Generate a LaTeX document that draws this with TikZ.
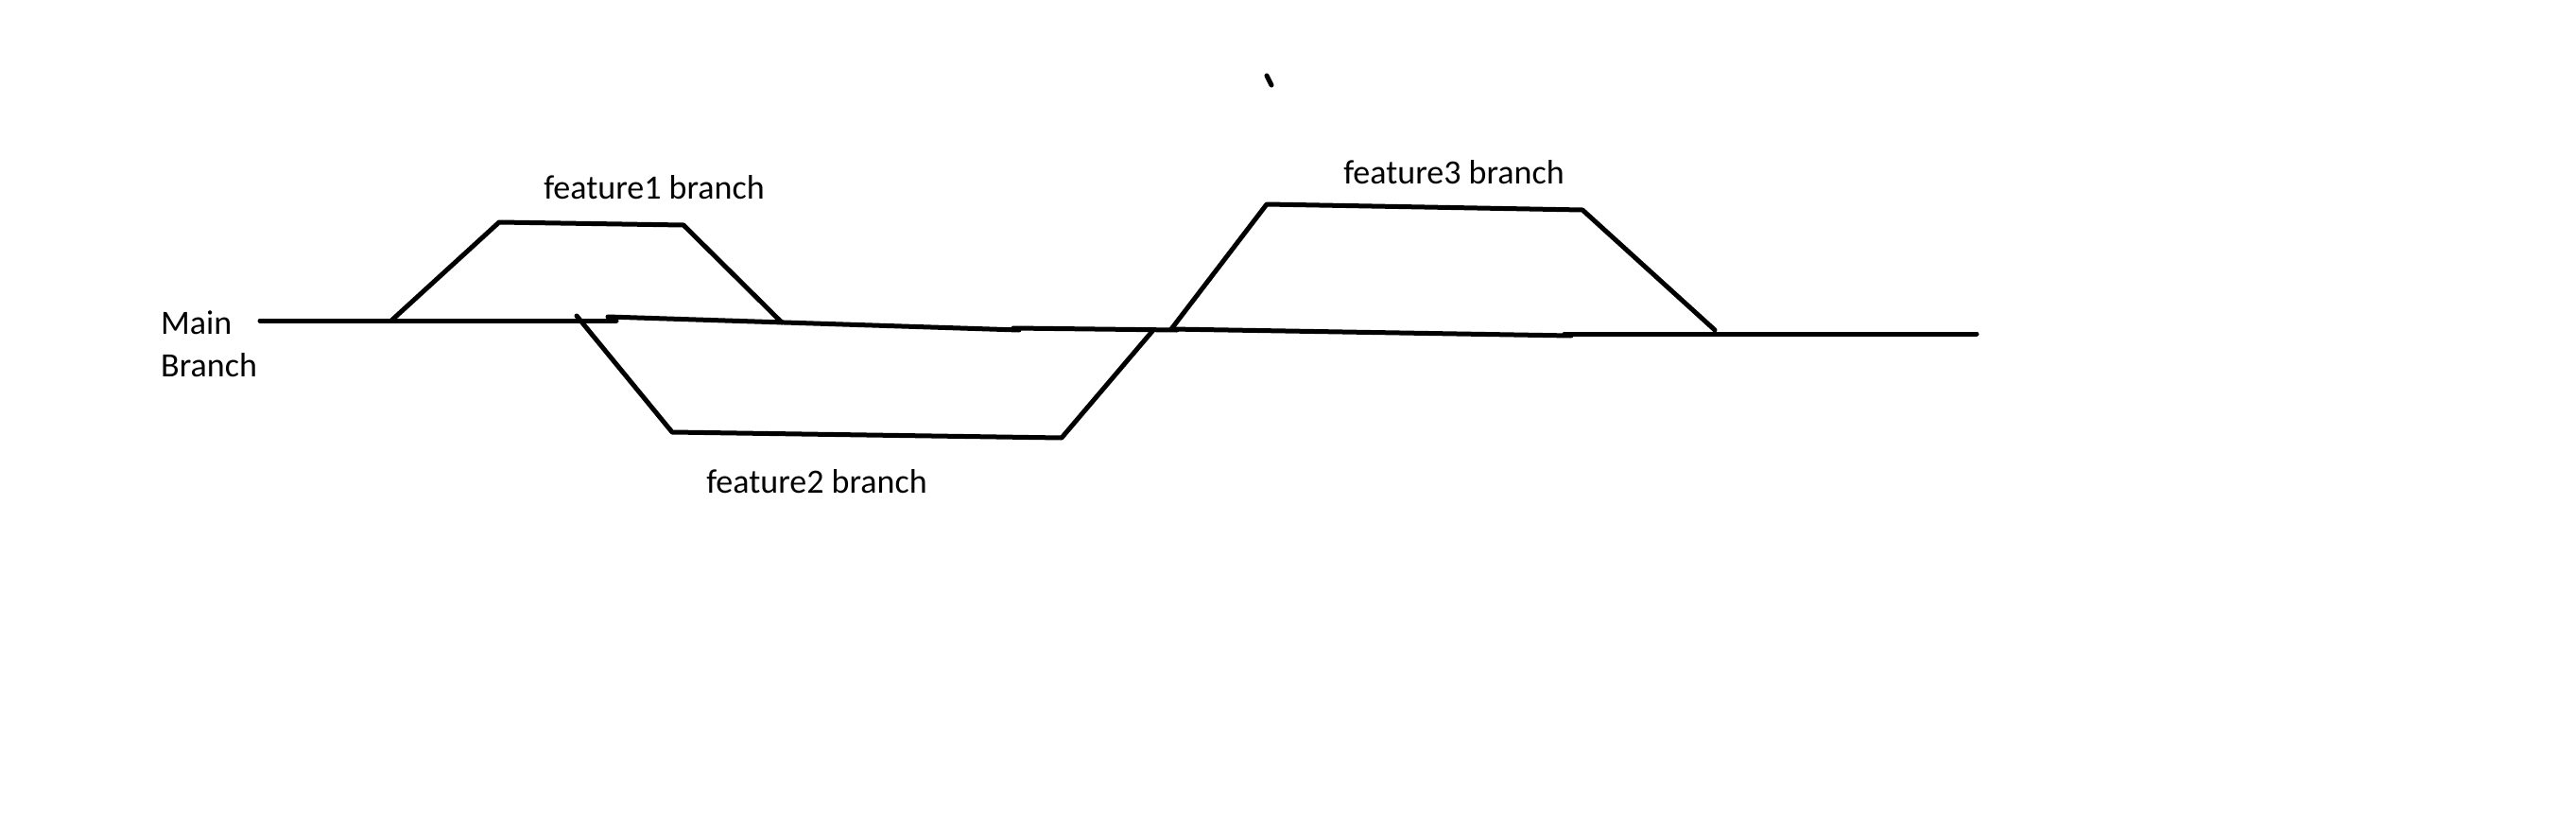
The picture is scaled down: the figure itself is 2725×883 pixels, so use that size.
\documentclass[tikz,border=0pt]{standalone}
\usepackage{fontspec}
\setmainfont{Carlito}
\begin{document}
\begin{tikzpicture}[x=1pt,y=-1pt,
  stroke/.style={line width=5pt,line cap=round,line join=round,black},
  lbl/.style={inner sep=0pt,font=\fontsize{36}{45}\selectfont}]
\fill[white] (0,0) rectangle (2725,883);
\useasboundingbox (0,0) rectangle (2725,883);
% main line points
\coordinate (m0) at (275,339);
\coordinate (m1) at (652,339);
\coordinate (m2) at (643,335);
\coordinate (m3) at (1078,349);
\coordinate (m4) at (1072,347);
\coordinate (m5) at (1245,349);
\coordinate (m6) at (1239,348);
\coordinate (m7) at (1662,355);
\coordinate (m8) at (1655,353);
\coordinate (m9) at (2091,353);
% feature1
\coordinate (a0) at (414,339);
\coordinate (a1) at (528,235);
\coordinate (a2) at (723,238);
\coordinate (a3) at (827,341);
% feature2
\coordinate (b0) at (610,334);
\coordinate (b1) at (711,457);
\coordinate (b2) at (1123,463);
\coordinate (b3) at (1220,349);
% feature3
\coordinate (c0) at (1239,348);
\coordinate (c1) at (1340,216);
\coordinate (c2) at (1674,222);
\coordinate (c3) at (1814,349);
% tick
\coordinate (t0) at (1340,80);
\coordinate (t1) at (1345,90);

\draw[stroke] (m0) -- (m1);
\draw[stroke] (m2) -- (m3);
\draw[stroke] (m4) -- (m5);
\draw[stroke] (m6) -- (m7);
\draw[stroke] (m8) -- (m9);
\draw[stroke] (a0) -- (a1) -- (a2) -- (a3);
\draw[stroke] (b0) -- (b1) -- (b2) -- (b3);
\draw[stroke] (c0) -- (c1) -- (c2) -- (c3);
\draw[stroke] (t0) -- (t1);

\node[lbl] (f1) at (692,198) {feature1 branch};
\node[lbl] (f2) at (864,509) {feature2 branch};
\node[lbl] (f3) at (1538,182) {feature3 branch};
\node[lbl,anchor=west] (mn) at (170,341) {Main};
\node[lbl,anchor=west] (br) at (170,386) {Branch};
\end{tikzpicture}
\end{document}
